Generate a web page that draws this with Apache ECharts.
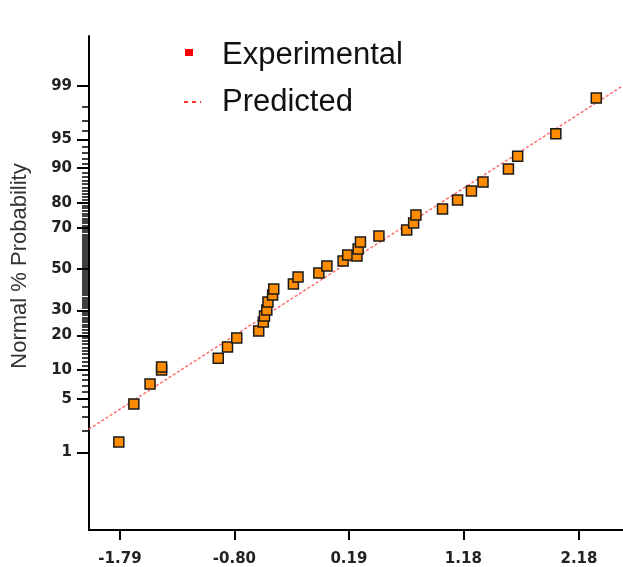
<!DOCTYPE html>
<html>
<head>
<meta charset="UTF-8">
<title>Normal plot of residuals</title>
<script src="https://cdn.jsdelivr.net/npm/echarts@6/dist/echarts.min.js"></script>
<style>
html, body { margin: 0; padding: 0; background: #fff; }
#main { width: 623px; height: 567px; }
</style>
</head>
<body>
<div id="main"></div>
<script type="text/javascript">
// experimental points: residual (x) and normal % probability (y)
var expX = [-1.80, -1.67, -1.53, -1.43, -1.43, -0.94, -0.86, -0.78, -0.59, -0.55,
            -0.54, -0.52, -0.51, -0.47, -0.46, -0.29, -0.25, -0.07, 0.00, 0.14,
            0.18, 0.26, 0.27, 0.29, 0.45, 0.69, 0.75, 0.77, 1.00, 1.13,
            1.25, 1.35, 1.57, 1.65, 1.98, 2.33];
var expP = [1.41, 4.34, 7.23, 9.99, 10.7, 12.9, 16.1, 19.1, 21.6, 25.1,
            27.6, 30.2, 33.8, 37.1, 40.0, 42.5, 46.0, 48.0, 51.5, 54.0,
            57.0, 56.5, 60.0, 63.4, 66.2, 69.0, 72.0, 75.3, 77.7, 80.9,
            83.9, 86.5, 89.8, 92.4, 95.7, 98.5];

// predicted line (end points)
var predX = [-2.06, 2.56];
var predP = [2.1, 99.0];

// axis ticks
var xTicks = [-1.79, -0.80, 0.19, 1.18, 2.18];
var yMajor = [1, 5, 10, 20, 30, 50, 70, 80, 90, 95, 99];
var yMinor = [];
for (var k = 2; k < 99; k++) {
    if (yMajor.indexOf(k) < 0) yMinor.push(k);
}

// inverse of the normal cdf (Acklam)
function probit(p) {
    var a = [-3.969683028665376e+01, 2.209460984245205e+02, -2.759285104469687e+02, 1.383577518672690e+02, -3.066479806614716e+01, 2.506628277459239e+00];
    var b = [-5.447609879822406e+01, 1.615858368580409e+02, -1.556989798598866e+02, 6.680131188771972e+01, -1.328068155288572e+01];
    var c = [-7.784894002430293e-03, -3.223964580411365e-01, -2.400758277161838e+00, -2.549732539343734e+00, 4.374664141464968e+00, 2.938163982698783e+00];
    var d = [7.784695709041462e-03, 3.224671290700398e-01, 2.445134137142996e+00, 3.754408661907416e+00];
    var pl = 0.02425, q, r;
    if (p < pl) {
        q = Math.sqrt(-2 * Math.log(p));
        return (((((c[0]*q+c[1])*q+c[2])*q+c[3])*q+c[4])*q+c[5]) / ((((d[0]*q+d[1])*q+d[2])*q+d[3])*q+1);
    }
    if (p > 1 - pl) {
        q = Math.sqrt(-2 * Math.log(1 - p));
        return -(((((c[0]*q+c[1])*q+c[2])*q+c[3])*q+c[4])*q+c[5]) / ((((d[0]*q+d[1])*q+d[2])*q+d[3])*q+1);
    }
    q = p - 0.5; r = q * q;
    return (((((a[0]*r+a[1])*r+a[2])*r+a[3])*r+a[4])*r+a[5])*q / (((((b[0]*r+b[1])*r+b[2])*r+b[3])*r+b[4])*r+1);
}
function z(pct) { return probit(pct / 100); }

var majorZ = yMajor.map(z);
var minorZ = yMinor.map(z);

function pctLabel(v) {
    var best = 0;
    for (var i = 1; i < majorZ.length; i++) {
        if (Math.abs(majorZ[i] - v) < Math.abs(majorZ[best] - v)) best = i;
    }
    return String(yMajor[best]);
}

var yMin = -3.312, yMax = 2.957;
var labelFont = { color: '#222', fontFamily: 'DejaVu Sans', fontSize: 15, fontWeight: 'bold' };

var myChart = echarts.init(document.getElementById('main'));

var option = {
    animation: false,
    grid: { left: 89, right: 0, top: 36, bottom: 37, containLabel: false, outerBoundsMode: 'none' },
    xAxis: {
        type: 'value',
        min: -2.058,
        max: 2.561,
        axisLine: { show: true, onZero: false, lineStyle: { color: '#000', width: 2 } },
        axisTick: { show: true, customValues: xTicks, length: 10, lineStyle: { color: '#000', width: 2 } },
        axisLabel: Object.assign({ customValues: xTicks, margin: 22, formatter: function (v) { return v.toFixed(2); } }, labelFont),
        splitLine: { show: false }
    },
    yAxis: [{
        type: 'value',
        min: yMin,
        max: yMax,
        axisLine: { show: true, onZero: false, lineStyle: { color: '#000', width: 2 } },
        axisTick: { show: true, customValues: majorZ, length: 12, lineStyle: { color: '#000', width: 2 } },
        axisLabel: Object.assign({ customValues: majorZ, margin: 17, formatter: pctLabel }, labelFont),
        splitLine: { show: false }
    }, {
        type: 'value',
        min: yMin,
        max: yMax,
        position: 'left',
        axisLine: { show: false, onZero: false },
        axisTick: { show: true, customValues: minorZ, length: 7, lineStyle: { color: '#000', width: 1.5 } },
        axisLabel: { show: false },
        splitLine: { show: false }
    }],
    graphic: [
        { type: 'text', x: 20, y: 266, rotation: Math.PI / 2,
          style: { text: 'Normal % Probability', fill: '#333', font: '22px "Liberation Sans"', textAlign: 'center', textVerticalAlign: 'middle' } },
        { type: 'rect', shape: { x: 185, y: 49, width: 8, height: 7 }, style: { fill: '#ff0000' } },
        { type: 'line', shape: { x1: 184, y1: 102, x2: 201, y2: 102 }, style: { stroke: '#ff3030', lineWidth: 2, lineDash: [4, 4] } },
        { type: 'text', x: 222, y: 55,
          style: { text: 'Experimental', fill: '#111', font: '31px "Liberation Sans"', textVerticalAlign: 'middle' } },
        { type: 'text', x: 222, y: 102,
          style: { text: 'Predicted', fill: '#111', font: '31px "Liberation Sans"', textVerticalAlign: 'middle' } }
    ],
    series: [{
        name: 'Predicted',
        type: 'line',
        yAxisIndex: 0,
        showSymbol: false,
        data: predX.map(function (x, i) { return [x, z(predP[i])]; }),
        lineStyle: { color: '#ff6f6f', width: 1.5, type: [3, 2] },
        z: 1
    }, {
        name: 'Experimental',
        type: 'scatter',
        yAxisIndex: 0,
        symbol: 'rect',
        symbolSize: 10,
        data: expX.map(function (x, i) { return [x, z(expP[i])]; }),
        itemStyle: { color: '#ff8c00', borderColor: '#1a1a1a', borderWidth: 1.5, opacity: 1 },
        z: 2
    }]
};
myChart.setOption(option);
</script>
</body>
</html>
